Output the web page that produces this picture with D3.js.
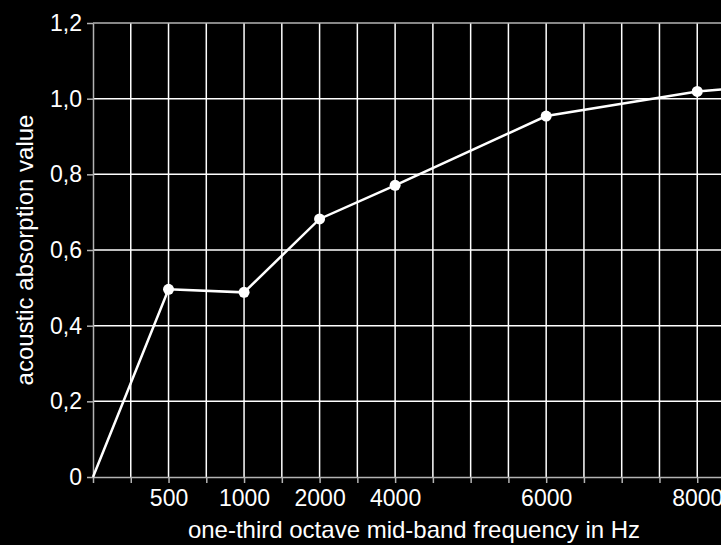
<!DOCTYPE html>
<html>
<head>
<meta charset="utf-8">
<script src="https://cdn.jsdelivr.net/npm/d3@7"></script>
<style>
  body { margin: 0; background: #000; }
  svg { display: block; background: #000; font-family: "Liberation Sans", Arial, sans-serif; }
  .grid line { stroke: #fff; stroke-width: 1.5; }
  .axis path, .axis line { stroke: #b4b4b4; stroke-width: 1.5; }
  .axis text { fill: #fff; font-size: 23px; }
  .axis-label { fill: #fff; font-size: 24px; text-anchor: middle; }
  .line { fill: none; stroke: #fff; stroke-width: 2.5; }
</style>
</head>
<body>
<svg id="chart"></svg>
<script>
// slot index along the x axis (evenly spaced columns), absorption values
var slots = [0, 2, 4, 6, 8, 12, 16, 17];
var values = [0, 0.496, 0.488, 0.682, 0.771, 0.954, 1.019, 1.027];
var dotSlots = [2, 4, 6, 8, 12, 16, 17];

var tickSlots = [2, 4, 6, 8, 12, 16];
var tickLabels = ["500", "1000", "2000", "4000", "6000", "8000"];
var yTicks = [0, 0.2, 0.4, 0.6, 0.8, 1.0, 1.2];

var W = 721, H = 545;
var margin = {top: 23, right: -14, bottom: 68, left: 93};
var width = W - margin.left - margin.right,
    height = H - margin.top - margin.bottom;

var x = d3.scaleLinear().domain([0, 17]).range([0, width]);
var y = d3.scaleLinear().domain([0, 1.2]).range([height, 0]);

var svg = d3.select("#chart")
  .attr("width", W)
  .attr("height", H)
  .append("g")
    .attr("transform", "translate(" + margin.left + "," + margin.top + ")");

//Vertical and horizontal grid
svg.append("g").attr("class", "grid")
  .selectAll("line").data(d3.range(1, 17)).enter().append("line")
  .attr("x1", function(d){ return x(d); })
  .attr("x2", function(d){ return x(d); })
  .attr("y1", y(0)).attr("y2", y(1.2));

svg.append("g").attr("class", "grid")
  .selectAll("line").data(yTicks.slice(1, -1)).enter().append("line")
  .attr("x1", 0).attr("x2", width)
  .attr("y1", function(d){ return y(d); })
  .attr("y2", function(d){ return y(d); });

//Top border
svg.append("line")
  .attr("x1", 0).attr("x2", width)
  .attr("y1", y(1.2)).attr("y2", y(1.2))
  .style("stroke", "#b4b4b4").style("stroke-width", 1.5);

//x axis: a tick under every column, labels on some
var labelFor = {};
tickSlots.forEach(function(s, i){ labelFor[s] = tickLabels[i]; });

var xAxis = svg.append("g")
  .attr("class", "axis")
  .attr("transform", "translate(0," + height + ")")
  .call(d3.axisBottom(x).tickValues(d3.range(0, 17)).tickSize(6).tickSizeOuter(0)
    .tickFormat(function(d){ return labelFor[d] || ""; }));
xAxis.selectAll("text").attr("dy", "0.85em").attr("y", 9);

//y axis
svg.append("g")
  .attr("class", "axis")
  .call(d3.axisLeft(y).tickValues(yTicks).tickSize(6).tickSizeOuter(0)
    .tickFormat(function(d){ return d === 0 ? "0" : d3.format(".1f")(d).replace(".", ","); }))
  .selectAll("text").attr("x", -11);

//Axis labels
svg.append("text")
  .attr("class", "axis-label")
  .attr("x", width / 2)
  .attr("y", height + 61)
  .text("one-third octave mid-band frequency in Hz");

svg.append("text")
  .attr("class", "axis-label")
  .attr("transform", "rotate(-90)")
  .attr("x", -height / 2)
  .attr("y", 33 - margin.left)
  .text("acoustic absorption value");

//Line and dots
var data = slots.map(function(s, i){ return {slot: s, value: values[i]}; });
var line = d3.line()
  .x(function(d){ return x(d.slot); })
  .y(function(d){ return y(d.value); });

svg.append("path")
  .data([data])
  .attr("class", "line")
  .attr("d", line);

svg.selectAll(".dot")
  .data(data.filter(function(d){ return dotSlots.indexOf(d.slot) >= 0; }))
  .enter().append("circle")
  .attr("class", "dot")
  .attr("cx", function(d){ return x(d.slot); })
  .attr("cy", function(d){ return y(d.value); })
  .attr("r", 5.5)
  .style("fill", "#fff");
</script>
</body>
</html>
